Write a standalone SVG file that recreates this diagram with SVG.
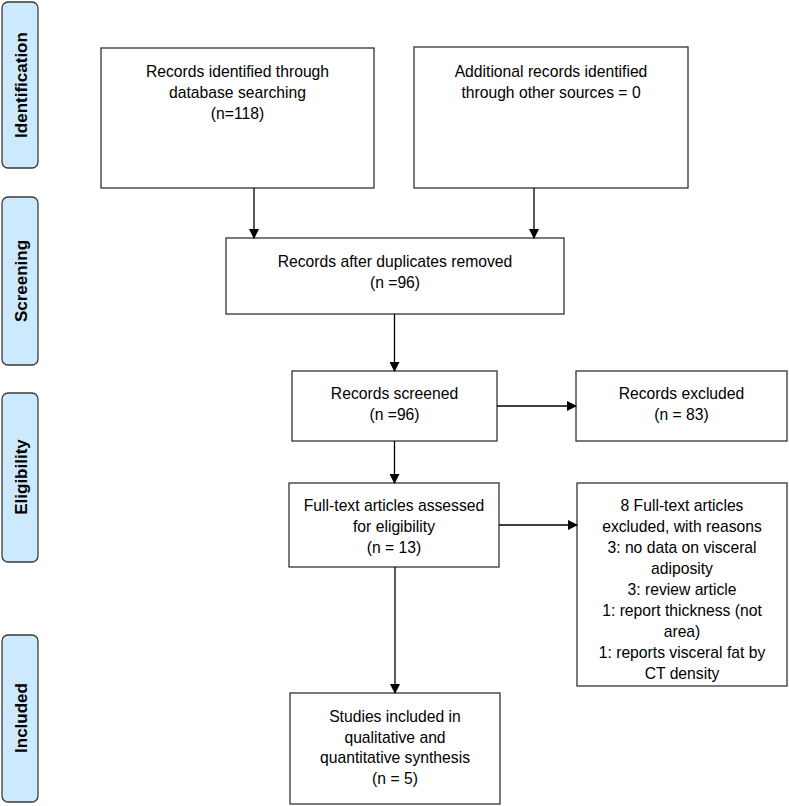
<svg xmlns="http://www.w3.org/2000/svg" width="789" height="806" viewBox="0 0 789 806">
<style>
.phase{fill:#cde9fd;stroke:#3a3a3a;stroke-width:1.3}
.ptxt{font-family:"Liberation Sans",Arial,sans-serif;font-weight:bold;font-size:17px;fill:#000;text-anchor:middle}
.box{fill:#fff;stroke:#333;stroke-width:1.3}
.t{font-family:"Liberation Sans",Arial,sans-serif;font-size:15.7px;fill:#000;text-anchor:middle}
.c{stroke:#000;stroke-width:1.3;fill:none;marker-end:url(#ah)}
</style>
<defs>
<marker id="ah" markerWidth="10" markerHeight="10" refX="9" refY="5" orient="auto" markerUnits="userSpaceOnUse">
<path d="M0,0 L10,5 L0,10 z" fill="#000"/>
</marker>
</defs>
<rect width="789" height="806" fill="#fff"/>
<g id="phase-identification"><rect class="phase" x="2" y="2" width="36" height="166" rx="6"/><text class="ptxt" transform="translate(26.5,85) rotate(-90)">Identification</text></g>
<g id="phase-screening"><rect class="phase" x="2" y="197" width="36" height="168" rx="6"/><text class="ptxt" transform="translate(26.5,281) rotate(-90)">Screening</text></g>
<g id="phase-eligibility"><rect class="phase" x="2" y="393" width="36" height="169" rx="6"/><text class="ptxt" transform="translate(26.5,477) rotate(-90)">Eligibility</text></g>
<g id="phase-included"><rect class="phase" x="2" y="635" width="36" height="167" rx="6"/><text class="ptxt" transform="translate(26.5,718) rotate(-90)">Included</text></g>

<g id="n-database"><rect class="box" x="101" y="48" width="273" height="140"/>
<text class="t" x="237.5" y="77">Records identified through</text>
<text class="t" x="237.5" y="98">database searching</text>
<text class="t" x="237.5" y="119">(n=118)</text></g>
<g id="n-other"><rect class="box" x="414" y="47" width="274" height="141"/>
<text class="t" x="551" y="77">Additional records identified</text>
<text class="t" x="551" y="98">through other sources = 0</text></g>
<g id="n-dupes"><rect class="box" x="226" y="238" width="338" height="76"/>
<text class="t" x="395" y="267">Records after duplicates removed</text>
<text class="t" x="395" y="288">(n =96)</text></g>
<g id="n-screened"><rect class="box" x="292" y="371" width="205" height="70"/>
<text class="t" x="394.5" y="399">Records screened</text>
<text class="t" x="394.5" y="420">(n =96)</text></g>
<g id="n-excluded"><rect class="box" x="576" y="371" width="211" height="70"/>
<text class="t" x="681.5" y="399">Records excluded</text>
<text class="t" x="681.5" y="420">(n = 83)</text></g>
<g id="n-fulltext"><rect class="box" x="289" y="483" width="210" height="84"/>
<text class="t" x="394" y="511">Full-text articles assessed</text>
<text class="t" x="394" y="532">for eligibility</text>
<text class="t" x="394" y="553">(n = 13)</text></g>
<g id="n-ftexcluded"><rect class="box" x="577" y="483" width="210" height="203"/>
<text class="t" x="682" y="511">8 Full-text articles</text>
<text class="t" x="682" y="532">excluded, with reasons</text>
<text class="t" x="682" y="553">3: no data on visceral</text>
<text class="t" x="682" y="574">adiposity</text>
<text class="t" x="682" y="595">3: review article</text>
<text class="t" x="682" y="616">1: report thickness (not</text>
<text class="t" x="682" y="637">area)</text>
<text class="t" x="682" y="658">1: reports visceral fat by</text>
<text class="t" x="682" y="679">CT density</text></g>
<g id="n-included"><rect class="box" x="290" y="693" width="210" height="111"/>
<text class="t" x="395" y="722">Studies included in</text>
<text class="t" x="395" y="742.5">qualitative and</text>
<text class="t" x="395" y="763">quantitative synthesis</text>
<text class="t" x="395" y="783.5">(n = 5)</text></g>

<g id="connectors">
<line class="c" x1="254" y1="188" x2="254" y2="238"/>
<line class="c" x1="534" y1="188" x2="534" y2="238"/>
<line class="c" x1="394.5" y1="314" x2="394.5" y2="371"/>
<line class="c" x1="497" y1="406" x2="576" y2="406"/>
<line class="c" x1="394.5" y1="441" x2="394.5" y2="483"/>
<line class="c" x1="499" y1="525" x2="577" y2="525"/>
<line class="c" x1="395" y1="567" x2="395" y2="693"/>
</g>
</svg>
